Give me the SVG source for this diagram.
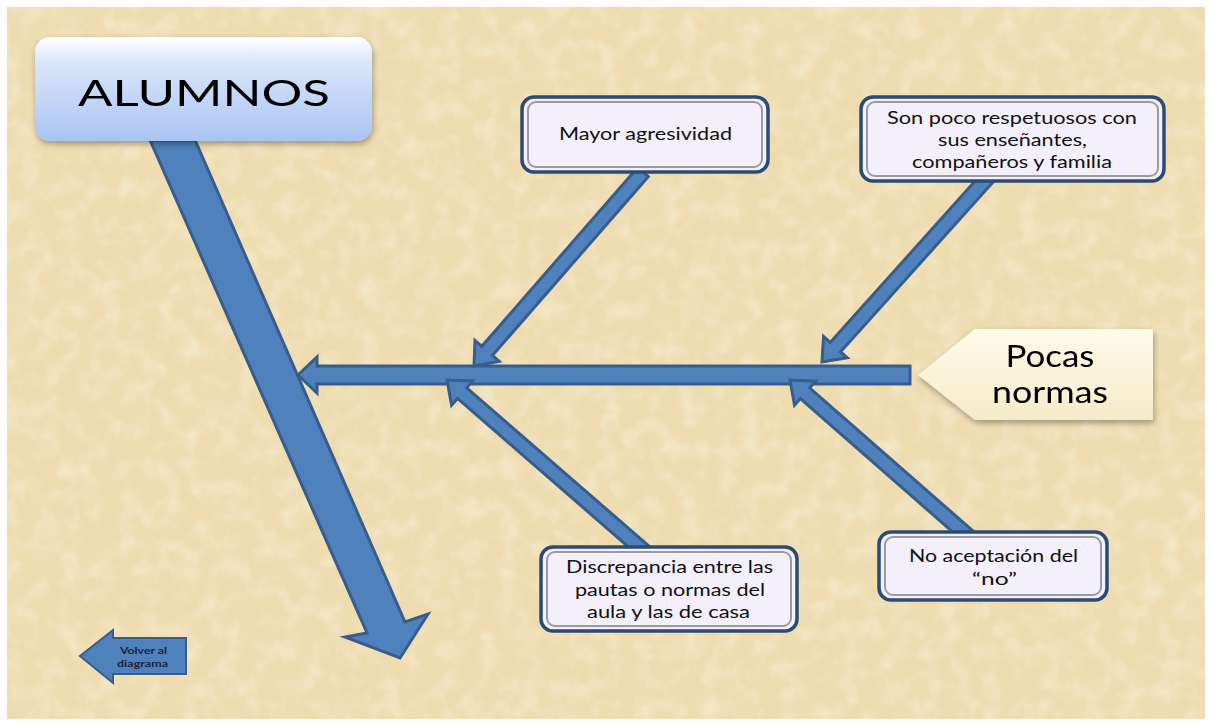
<svg xmlns="http://www.w3.org/2000/svg" width="1211" height="725" viewBox="0 0 1211 725">
  <defs>
    <style>
      .arrow { fill: #4f81bd; stroke: #385d8a; stroke-width: 3; stroke-linejoin: miter; }
      .box-outer { fill: #f3f0fb; stroke: #2c4a73; stroke-width: 3.5; }
      .box-inner { fill: none; stroke: #9a9aa0; stroke-width: 2; }
      .lbl { font-family: Lato, "Liberation Sans", sans-serif; font-size: 18px; fill: #111; text-anchor: middle; }
      .big { font-family: Lato, "Liberation Sans", sans-serif; fill: #000; text-anchor: middle; }
    </style>
    <filter id="paper" x="0" y="0" width="100%" height="100%">
      <feTurbulence type="fractalNoise" baseFrequency="0.05" numOctaves="3" seed="7" result="n"/>
      <feColorMatrix in="n" type="matrix" values="0 0 0 0 0.97  0 0 0 0 0.92  0 0 0 0 0.80  0 0 0 0.9 -0.38"/>
      <feComposite in2="SourceGraphic" operator="in"/>
    </filter>
    <filter id="shadow" x="-10%" y="-10%" width="120%" height="130%">
      <feGaussianBlur in="SourceAlpha" stdDeviation="3"/>
      <feOffset dx="1" dy="3"/>
      <feComponentTransfer><feFuncA type="linear" slope="0.35"/></feComponentTransfer>
      <feMerge><feMergeNode/><feMergeNode in="SourceGraphic"/></feMerge>
    </filter>
    <linearGradient id="alumnosFill" x1="0" y1="0" x2="0" y2="1">
      <stop offset="0" stop-color="#ffffff"/>
      <stop offset="0.25" stop-color="#d9e5fb"/>
      <stop offset="1" stop-color="#a9c4f3"/>
    </linearGradient>
    <linearGradient id="tagFill" x1="0" y1="0" x2="0" y2="1">
      <stop offset="0" stop-color="#fffbea"/>
      <stop offset="1" stop-color="#f5ebc8"/>
    </linearGradient>
  </defs>

  <!-- page background -->
  <rect x="0" y="0" width="1211" height="725" fill="#ffffff"/>
  <rect x="7" y="7" width="1198" height="712" fill="#eedcb0"/>
  <rect x="7" y="7" width="1198" height="712" fill="#eedcb0" filter="url(#paper)"/>

  <!-- connectors -->
  <g id="connectors">
    <!-- main diagonal arrow from ALUMNOS -->
    <polygon class="arrow" points="150,140 195,140 405,622 428,614 400,658 345,637 367,633"/>
    <!-- horizontal spine -->
    <polygon class="arrow" points="910,366 317,366 317,357 298,375 317,393 317,384 910,384"/>
    <!-- branch: Mayor agresividad -->
    <polygon class="arrow" points="637.7,167.4 481.8,346.3 475,340.4 474,366 499.2,361.4 492.4,355.5 648.3,176.6"/>
    <!-- branch: Son poco respetuosos -->
    <polygon class="arrow" points="984.8,170.3 830.2,342.4 823.5,336.4 822,362 847.3,357.8 840.6,351.8 995.2,179.7"/>
    <!-- branch: Discrepancia -->
    <polygon class="arrow" points="649.6,546.7 466.7,387.8 472.6,381 447,380 451.6,405.2 457.5,398.4 640.4,557.3"/>
    <!-- branch: No aceptacion -->
    <polygon class="arrow" points="972.6,530.7 809.6,387.9 815.5,381.2 790,380 794.5,405.2 800.4,398.5 963.4,541.3"/>
  </g>

  <g id="alumnos" filter="url(#shadow)">
    <rect x="35" y="37" width="337" height="104" rx="15" fill="url(#alumnosFill)"/>
    <text class="big" x="204" y="106" font-size="36" textLength="252" lengthAdjust="spacingAndGlyphs">ALUMNOS</text>
  </g>

  <g id="pocas-normas" filter="url(#shadow)">
    <polygon points="918,375 975,329 1153,329 1153,420 975,420" fill="url(#tagFill)"/>
    <text class="big" x="1050" y="367" font-size="30" textLength="89" lengthAdjust="spacingAndGlyphs">Pocas</text>
    <text class="big" x="1050" y="403" font-size="30" textLength="116" lengthAdjust="spacingAndGlyphs">normas</text>
  </g>

  <g id="mayor-agresividad">
    <rect class="box-outer" x="522" y="97" width="246" height="75" rx="12"/>
    <rect class="box-inner" x="528" y="102" width="234" height="65" rx="8"/>
    <text class="lbl" x="645.5" y="140" textLength="173" lengthAdjust="spacingAndGlyphs">Mayor agresividad</text>
  </g>

  <g id="poco-respetuosos">
    <rect class="box-outer" x="861" y="97" width="303" height="84" rx="12"/>
    <rect class="box-inner" x="867" y="102" width="291" height="74" rx="8"/>
    <text class="lbl" x="1012" y="124" textLength="250" lengthAdjust="spacingAndGlyphs">Son  poco respetuosos con</text>
    <text class="lbl" x="1012.5" y="146" textLength="149" lengthAdjust="spacingAndGlyphs">sus enseñantes,</text>
    <text class="lbl" x="1012" y="168" textLength="200" lengthAdjust="spacingAndGlyphs">compañeros y familia</text>
  </g>

  <g id="discrepancia">
    <rect class="box-outer" x="541" y="547" width="256" height="84" rx="12"/>
    <rect class="box-inner" x="547" y="552" width="244" height="74" rx="8"/>
    <text class="lbl" x="669.5" y="573" textLength="207" lengthAdjust="spacingAndGlyphs">Discrepancia entre las</text>
    <text class="lbl" x="670" y="596" textLength="190" lengthAdjust="spacingAndGlyphs">pautas o normas del</text>
    <text class="lbl" x="668.5" y="618" textLength="163" lengthAdjust="spacingAndGlyphs">aula y las de casa</text>
  </g>

  <g id="no-aceptacion">
    <rect class="box-outer" x="879" y="532" width="228" height="68" rx="12"/>
    <rect class="box-inner" x="885" y="537" width="216" height="58" rx="8"/>
    <text class="lbl" x="993.5" y="562" textLength="169" lengthAdjust="spacingAndGlyphs">No aceptación del</text>
    <text class="lbl" x="994.5" y="585" textLength="45" lengthAdjust="spacingAndGlyphs">“no”</text>
  </g>

  <g id="volver">
    <polygon points="80,656 113,630 113,638 186,638 186,674 113,674 113,683" fill="#4f81bd" stroke="#385d8a" stroke-width="2"/>
    <text x="143.5" y="654" font-family="Lato, 'Liberation Sans', sans-serif" font-size="10" font-weight="bold" fill="#1a2238" text-anchor="middle" textLength="47" lengthAdjust="spacingAndGlyphs">Volver al</text>
    <text x="142.5" y="667" font-family="Lato, 'Liberation Sans', sans-serif" font-size="10" font-weight="bold" fill="#1a2238" text-anchor="middle" textLength="51" lengthAdjust="spacingAndGlyphs">diagrama</text>
  </g>
</svg>
